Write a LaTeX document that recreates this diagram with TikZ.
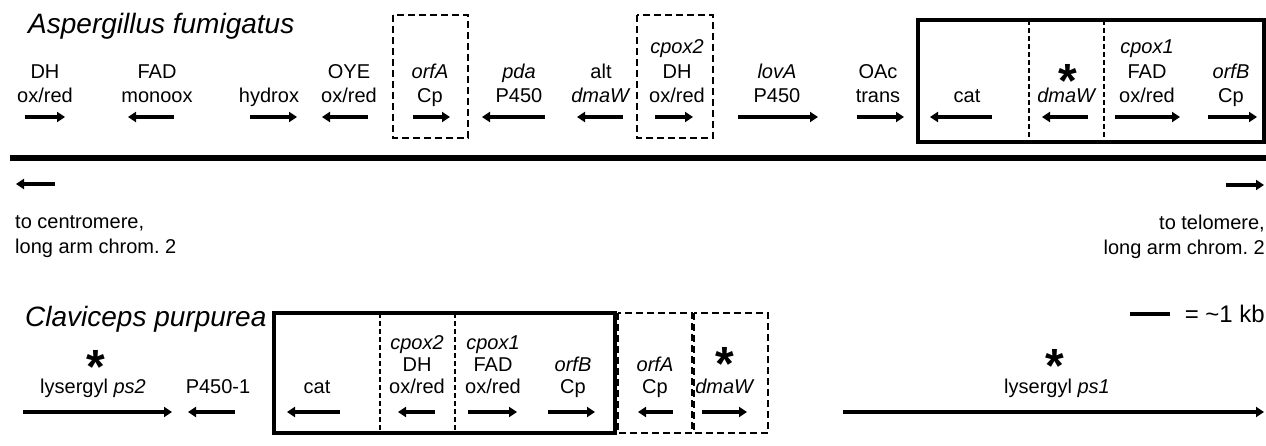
\documentclass[tikz,border=0pt]{standalone}
\usepackage{fontspec}
\setmainfont{Liberation Sans}
\usetikzlibrary{arrows.meta}
\frenchspacing

\begin{document}
\begin{tikzpicture}[x=1pt, y=-1pt,
    font=\fontsize{20}{24.5}\selectfont,
    lab/.style={anchor=south, align=center, inner sep=0pt},
    labb/.style={lab, font=\fontsize{20}{22}\selectfont},
    gene/.style={line width=3.5pt, -{Triangle[length=8pt, width=10pt]}},
    clus/.style={line width=3.5pt},
    part/.style={line width=2pt, dash pattern=on 7pt off 4pt},
    sep/.style={line width=1.5pt, dash pattern=on 5pt off 3pt},
    ttl/.style={anchor=base west, inner sep=0pt, font=\fontsize{28}{28}\selectfont\itshape},
    star/.style={anchor=base, inner sep=0pt, text height=0.75em, text depth=-0.4em,
                 font=\fontsize{48}{48}\selectfont\bfseries}
  ]
  \useasboundingbox (0,0) rectangle (1266,445);

  % Aspergillus fumigatus cluster
  \node[ttl] (af) at (28,33) {Aspergillus fumigatus};
  \draw[part] (393,15) rectangle (468,138);
  \draw[part] (637,15) rectangle (713,138);
  \draw[clus] (918,20) rectangle (1264,142);
  \draw[sep] (1029,20) -- (1029,142);
  \draw[sep] (1104,20) -- (1104,142);

  \node[lab] (dh)     at (45,110.5)   {DH\\ox/red\strut};
  \node[lab] (fad)    at (157,110.5)  {FAD\\monoox\strut};
  \node[lab] (hyd)    at (269,110.5)  {hydrox\strut};
  \node[lab] (oye)    at (349,110.5)  {OYE\\ox/red\strut};
  \node[lab] (orfa)   at (430,110.5)  {\textit{orfA}\\Cp\strut};
  \node[lab] (pda)    at (519,110.5)  {\textit{pda}\\P450\strut};
  \node[lab] (alt)    at (601,110.5)  {alt\\\textit{dmaW}\strut};
  \node[lab] (cpoxb)  at (677,110.5)  {\textit{cpox2}\\DH\\ox/red\strut};
  \node[lab] (lova)   at (777,110.5)  {\textit{lovA}\\P450\strut};
  \node[lab] (oac)    at (878,110.5)  {OAc\\trans\strut};
  \node[lab] (cat)    at (967,110.5)  {cat\strut};
  \node[lab] (dmaw)   at (1067,110.5) {\textit{dmaW}\strut};
  \node[star] (dmaws) at (1068,97)    {*};
  \node[lab] (cpoxa)  at (1147,110.5) {\textit{cpox1}\\FAD\\ox/red\strut};
  \node[lab] (orfb)   at (1231,110.5) {\textit{orfB}\\Cp\strut};

  \foreach \s/\e in {25/65, 174/128, 250/297, 368/322, 413/450, 545/482, 623/577,
                     655/693, 738/818, 857/904, 992/930, 1088/1042, 1115/1180, 1208/1257}
    \draw[gene] (\s,117) -- (\e,117);

  % chromosome
  \draw[line width=6pt] (10,158) -- (1266,158);
  \draw[gene] (55,184) -- (16,184);
  \draw[gene] (1226,185) -- (1264,185);
  \node[anchor=south west, align=left, inner sep=0pt] (cen) at (15,261)
    {to centromere,\\long arm chrom. 2\strut};
  \node[anchor=south east, align=right, inner sep=0pt] (tel) at (1265,262)
    {to telomere,\\long arm chrom. 2\strut};

  % Claviceps purpurea cluster
  \node[ttl] (cp) at (25,326) {Claviceps purpurea};
  \draw[clus] (274,313) rectangle (615,433);
  \draw[sep] (380,313) -- (380,433);
  \draw[sep] (455,313) -- (455,433);
  \draw[part] (618,313) rectangle (692,433);
  \draw[part] (694,313) rectangle (768,433);

  \node[labb] (ps2)    at (93,400.6)   {lysergyl \textit{ps2}\strut};
  \node[star] (ps2s)   at (96,383)     {*};
  \node[labb] (p450)   at (218,400.6)  {P450-1\strut};
  \node[labb] (catc)   at (317,400.6)  {cat\strut};
  \node[labb] (cpoxbc) at (417,400.6)  {\textit{cpox2}\\DH\\ox/red\strut};
  \node[labb] (cpoxac) at (493,400.6)  {\textit{cpox1}\\FAD\\ox/red\strut};
  \node[labb] (orfbc)  at (573,400.6)  {\textit{orfB}\\Cp\strut};
  \node[labb] (orfac)  at (655,400.6)  {\textit{orfA}\\Cp\strut};
  \node[labb] (dmawc)  at (725,400.6)  {\textit{dmaW}\strut};
  \node[star] (dmawcs) at (725,380)    {*};
  \node[labb] (ps1)    at (1057,400.6) {lysergyl \textit{ps1}\strut};
  \node[star] (ps1s)   at (1055,382)   {*};

  \foreach \s/\e in {23/172, 235/188, 340/287, 435/398, 468/517, 548/595,
                     673/638, 702/747, 843/1264}
    \draw[gene] (\s,412) -- (\e,412);

  % scale bar
  \draw[line width=4pt] (1130,314) -- (1170,314);
  \node[anchor=base east, inner sep=0pt, font=\fontsize{24}{24}\selectfont] (kb)
    at (1265,322) {= \textasciitilde1 kb};
\end{tikzpicture}
\end{document}
